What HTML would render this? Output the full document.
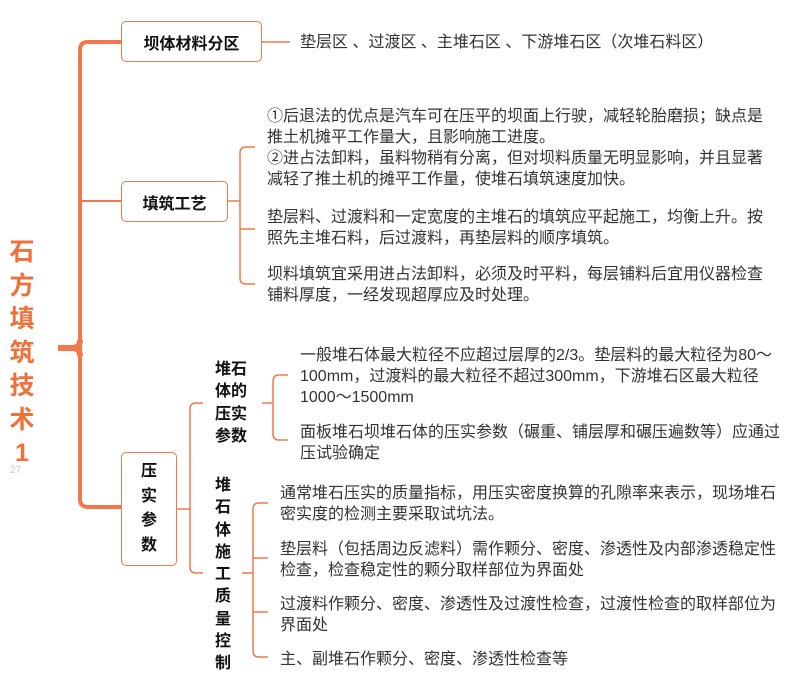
<!DOCTYPE html>
<html><head><meta charset="utf-8"><style>
body{margin:0;width:796px;height:694px;overflow:hidden;background:#fff;position:relative;font-family:"Liberation Sans","Noto Sans CJK SC",sans-serif;color:#333}
.t{position:absolute;font-size:16px;line-height:21px;white-space:nowrap}
.box{position:absolute;border:1.5px solid #f0784a;border-radius:5px;box-sizing:border-box;font-weight:bold;font-size:16px;color:#111;display:flex;align-items:center;justify-content:center}
.v{position:absolute;font-weight:bold;font-size:16px;color:#111;text-align:center}
svg{position:absolute;left:0;top:0}
</style></head><body>
<svg width="796" height="694" fill="none" stroke="#f0784a">
<path d="M121 42 H88 Q80 42 80 50 V499 Q80 507 88 507 H121" stroke-width="4"/>
<path d="M58 348 H72 Q80 348 80 340 M80 356 Q80 348 72 348" stroke-width="6"/>
<path d="M80 201 H121" stroke-width="2"/>
<path d="M262 42 H290" stroke-width="1.5"/>
<path d="M228 201 H240 M255 147 H246 Q240 147 240 153 V278 Q240 284 246 284 H255 M240 229 H255" stroke-width="1.5"/>
<path d="M177 509 H190 M203 403 H196 Q190 403 190 409 V567 Q190 573 196 573 H203" stroke-width="1.5"/>
<path d="M262 403 H273 M288 375 H279 Q273 375 273 381 V434 Q273 440 279 440 H288" stroke-width="1.5"/>
<path d="M242 573 H253 M268 503 H259 Q253 503 253 509 V651 Q253 657 259 657 H268 M253 558 H268 M253 612 H268" stroke-width="1.5"/>
</svg>
<div class="v" style="left:6px;top:236px;width:32px;font-size:25px;line-height:33.5px;color:#f0703a">石<br>方<br>填<br>筑<br>技<br>术<br>1</div>
<div class="box" style="left:121px;top:21px;width:141px;height:41px">坝体材料分区</div>
<div class="t" style="left:300px;top:32px">垫层区 、过渡区 、主堆石区 、下游堆石区（次堆石料区）</div>
<div class="box" style="left:121px;top:181px;width:107px;height:41px">填筑工艺</div>
<div class="t" style="left:267px;top:106px">①后退法的优点是汽车可在压平的坝面上行驶，减轻轮胎磨损；缺点是<br>推土机摊平工作量大，且影响施工进度。<br>②进占法卸料，虽料物稍有分离，但对坝料质量无明显影响，并且显著<br>减轻了推土机的摊平工作量，使堆石填筑速度加快。</div>
<div class="t" style="left:267px;top:207px">垫层料、过渡料和一定宽度的主堆石的填筑应平起施工，均衡上升。按<br>照先主堆石料，后过渡料，再垫层料的顺序填筑。</div>
<div class="t" style="left:267px;top:264px">坝料填筑宜采用进占法卸料，必须及时平料，每层铺料后宜用仪器检查<br>铺料厚度，一经发现超厚应及时处理。</div>
<div class="box" style="left:121px;top:452px;width:56px;height:114px;line-height:24.5px;text-align:center">压<br>实<br>参<br>数</div>
<div class="v" style="left:212px;top:359px;width:38px;line-height:22.3px">堆石<br>体的<br>压实<br>参数</div>
<div class="t" style="left:300px;top:345px">一般堆石体最大粒径不应超过层厚的2/3。垫层料的最大粒径为80～<br>100mm，过渡料的最大粒径不超过300mm，下游堆石区最大粒径<br>1000～1500mm</div>
<div class="t" style="left:300px;top:422px">面板堆石坝堆石体的压实参数（碾重、铺层厚和碾压遍数等）应通过<br>压试验确定</div>
<div class="v" style="left:212px;top:475px;width:22px;line-height:22.3px">堆<br>石<br>体<br>施<br>工<br>质<br>量<br>控<br>制</div>
<div class="t" style="left:280px;top:483px">通常堆石压实的质量指标，用压实密度换算的孔隙率来表示，现场堆石<br>密实度的检测主要采取试坑法。</div>
<div class="t" style="left:280px;top:539px">垫层料（包括周边反滤料）需作颗分、密度、渗透性及内部渗透稳定性<br>检查，检查稳定性的颗分取样部位为界面处</div>
<div class="t" style="left:280px;top:594px">过渡料作颗分、密度、渗透性及过渡性检查，过渡性检查的取样部位为<br>界面处</div>
<div class="t" style="left:280px;top:649px">主、副堆石作颗分、密度、渗透性检查等</div>
<div style="position:absolute;left:10px;top:465px;font-size:10px;color:#ccc">27</div>
</body></html>
